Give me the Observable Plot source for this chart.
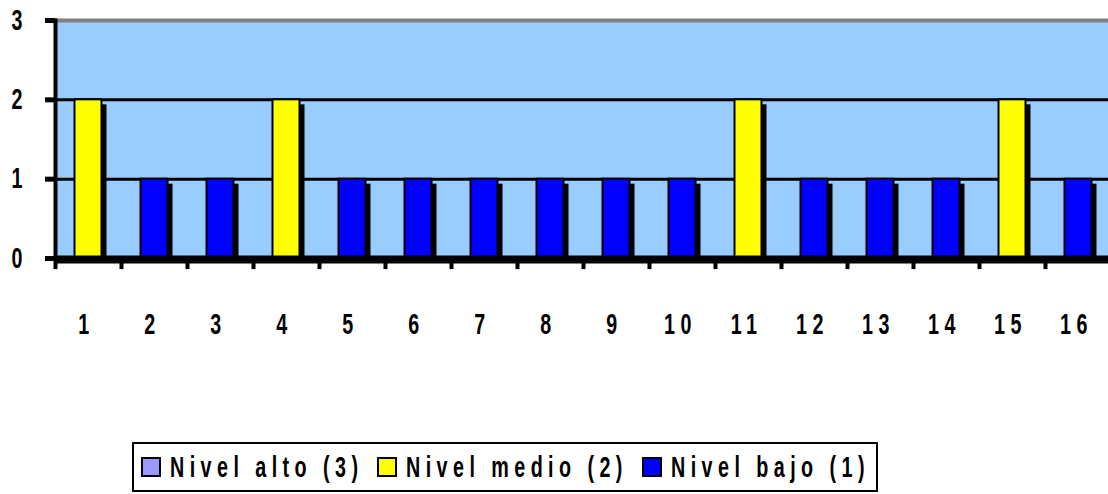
<!DOCTYPE html>
<html>
<head>
<meta charset="utf-8">
<script src="https://cdn.jsdelivr.net/npm/d3@7"></script>
<script src="https://cdn.jsdelivr.net/npm/@observablehq/plot@0.6"></script>
<style>
  body { margin: 0; background: #fff; font-family: "Liberation Sans", Arial, sans-serif; }
  #chart { position: absolute; left: 0; top: 0; }
  #legend { position: absolute; left: 132px; top: 442px; width: 746px; height: 50px; box-sizing: border-box;
            border: 2px solid #000; display: flex; align-items: center; padding-left: 7px;
            font-weight: bold; font-size: 29px; color: #000; white-space: nowrap; }
  .item { display: flex; align-items: center; margin-right: 14px; }
  .sw { width: 16px; height: 16px; border: 2px solid #000; margin-right: 9px; flex: none; }
  .tw { display: block; overflow: visible; height: 34px; position: relative; }
  .tw span { position: absolute; left: 0; top: 0; display: inline-block; transform-origin: 0 0; transform: scaleX(0.68); letter-spacing: 8px; line-height: 34px; }
</style>
</head>
<body>
<div id="chart"></div>
<div id="legend"></div>
<script>
// ---- data ----
const categories = [1, 2, 3, 4, 5, 6, 7, 8, 9, 10, 11, 12, 13, 14, 15, 16];
const levels = [2, 1, 1, 2, 1, 1, 1, 1, 1, 1, 2, 1, 1, 1, 2, 1];
const seriesNames = ["Nivel alto (3)", "Nivel medio (2)", "Nivel bajo (1)"];
const seriesLevels = [3, 2, 1];
const seriesColors = ["#9999FF", "#FFFF00", "#0000FF"];
const yTicks = [0, 1, 2, 3];

const data = categories.map((c, i) => ({cat: c, level: levels[i]}));
const FONT = '"Liberation Sans", Arial, sans-serif';
const SX = 0.68;

const chart = Plot.plot({
  width: 1108,
  height: 430,
  marginLeft: 55,
  marginRight: 0,
  marginTop: 20,
  marginBottom: 172,
  style: {fontFamily: FONT, fontWeight: "bold", fontSize: "29px", background: "#fff", overflow: "visible", color: "#000"},
  x: {type: "band", domain: categories, range: [55, 1111], padding: 0, label: null},
  y: {domain: [0, 3], label: null},
  color: {type: "ordinal", domain: seriesLevels, range: seriesColors},
  marks: [
    Plot.frame({fill: "#99CCFF"}),
    Plot.ruleY([1, 2], {stroke: "#000", strokeWidth: 3}),
    Plot.ruleY([3], {stroke: "#808080", strokeWidth: 4}),
    Plot.barY(data, {x: "cat", y: "level", fill: "#000", insetLeft: 19.5, insetRight: 19.5, dx: 5, dy: 5}),
    Plot.barY(data, {x: "cat", y: "level", fill: "level", stroke: "#000", strokeWidth: 2, insetLeft: 19.5, insetRight: 19.5}),
    Plot.ruleY([0], {stroke: "#000", strokeWidth: 8, dy: 1}),
    Plot.ruleX(categories, {x: d => d, dx: -33, y1: 0, y2: -0.14, stroke: "#000", strokeWidth: 4}),
    Plot.frame({anchor: "left", stroke: "#000", strokeWidth: 4}),
    Plot.axisY({ticks: yTicks, tickSize: 10, strokeWidth: 5, tickPadding: 23, tickFormat: d => String(d), fontSize: 29, fontWeight: "bold"}),
    Plot.axisX({tickSize: 0, tickPadding: 55, dx: -2, tickFormat: d => String(d), fontSize: 29, fontWeight: "bold"})
  ]
});
document.getElementById("chart").appendChild(chart);

// narrow, letter-spaced tick labels (condensed look of the original), scaled about each label's anchor
d3.select(chart).selectAll("g[aria-label='x-axis tick label'] text, g[aria-label='y-axis tick label'] text").each(function () {
  const old = this.getAttribute("transform") || "";
  this.setAttribute("transform", `${old} scale(${SX},1)`);
});
d3.select(chart).selectAll("g[aria-label='x-axis tick label'] text").style("letter-spacing", "8px");

const legend = document.getElementById("legend");
seriesNames.forEach((name, i) => {
  const item = document.createElement("div");
  item.className = "item";
  const sw = document.createElement("div");
  sw.className = "sw";
  sw.style.background = seriesColors[i];
  const tw = document.createElement("div");
  tw.className = "tw";
  const t = document.createElement("span");
  t.textContent = name;
  tw.appendChild(t);
  item.appendChild(sw);
  item.appendChild(tw);
  legend.appendChild(item);
  tw.style.width = (t.offsetWidth * SX) + "px";
});
</script>
</body>
</html>
